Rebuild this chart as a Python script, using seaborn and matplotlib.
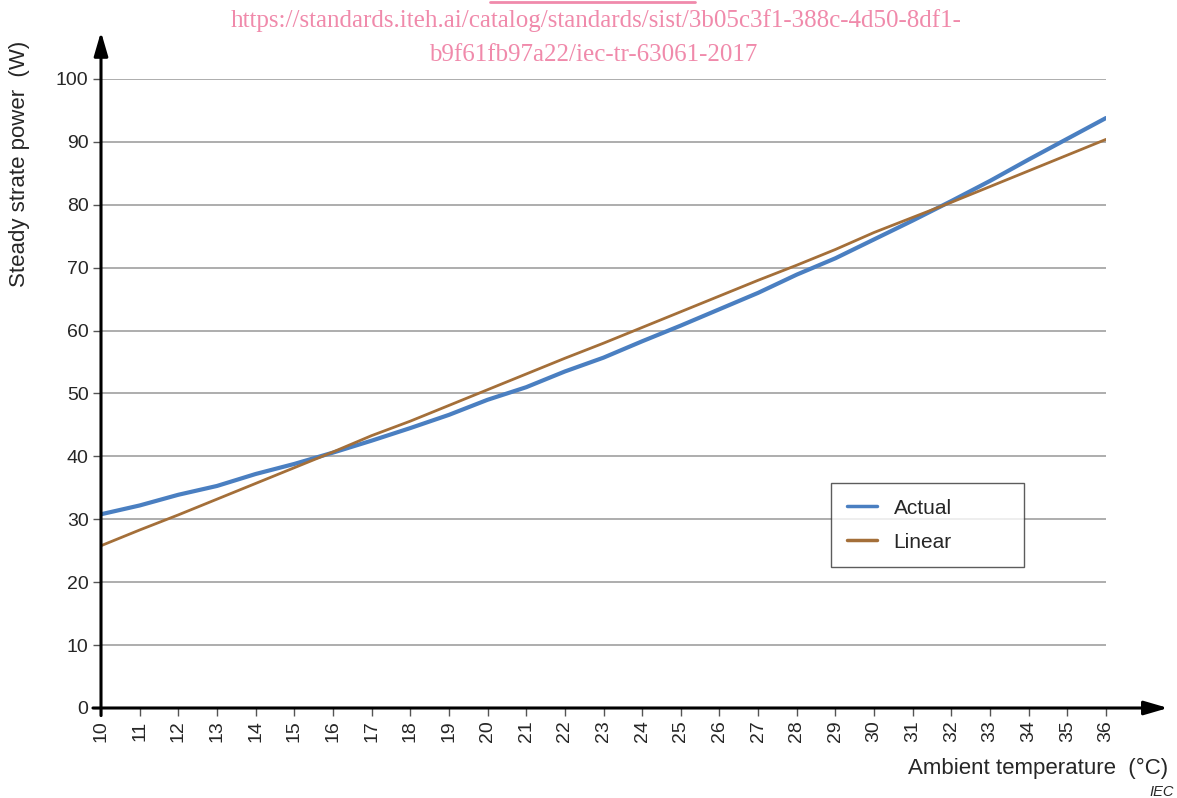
import numpy as np
import pandas as pd
import matplotlib
matplotlib.use("Agg")
import matplotlib.pyplot as plt
import seaborn as sns
from matplotlib.lines import Line2D

temps = list(range(10, 37))
actual = [30.8, 32.2, 33.9, 35.3, 37.2, 38.8, 40.6, 42.5, 44.5, 46.6, 49.0, 51.0,
          53.5, 55.7, 58.3, 60.8, 63.4, 66.0, 68.9, 71.5, 74.5, 77.5, 80.6, 83.8,
          87.2, 90.5, 93.8]
linear = [25.8, 28.3, 30.7, 33.2, 35.7, 38.2, 40.7, 43.3, 45.6, 48.1, 50.6, 53.1,
          55.6, 58.0, 60.5, 63.0, 65.5, 68.0, 70.4, 72.9, 75.6, 78.0, 80.4, 82.9,
          85.4, 87.9, 90.4]
series_names = ["Actual", "Linear"]
y_ticks = list(range(0, 101, 10))

df = pd.DataFrame({
    "temp": temps * 2,
    "power": actual + linear,
    "series": [series_names[0]] * len(temps) + [series_names[1]] * len(temps),
})

sns.set_theme(style="white")
plt.rcParams['font.family'] = ['Liberation Sans', 'DejaVu Sans']

W, H = 1177, 798
fig = plt.figure(figsize=(W / 100, H / 100), dpi=100)
x0, x1 = 101, 1106
y0, y1 = 708, 79
ax = fig.add_axes([x0 / W, 1 - y0 / H, (x1 - x0) / W, (y0 - y1) / H])

palette = {"Actual": "#4a7fc1", "Linear": "#a46f39"}
sns.lineplot(data=df, x="temp", y="power", hue="series", palette=palette,
             ax=ax, legend=False, zorder=3)
lines = ax.get_lines()
lines[0].set_linewidth(3.0)
lines[1].set_linewidth(2.0)

ax.set_xlim(10, 36)
ax.set_ylim(0, 100)
ax.set_xticks(temps)
ax.set_xticklabels([str(t) for t in temps], rotation=90, fontsize=14)
ax.set_yticks(y_ticks)
ax.set_yticklabels([str(v) for v in y_ticks], fontsize=14)
for v in y_ticks[1:]:
    ax.axhline(v, color="#a0a0a0", lw=1.2, zorder=1)
ax.tick_params(axis="both", which="both", direction="out", length=6, width=1,
               color="#555555", left=True, bottom=True, pad=3)
for s in ax.spines.values():
    s.set_visible(False)
ax.set_xlabel("")
ax.set_ylabel("")

# axis arrows
ax.annotate("", xy=(1.0617, 0), xytext=(-0.008, 0), xycoords="axes fraction",
            arrowprops=dict(arrowstyle="-|>,head_length=1.2,head_width=0.35", color="black", lw=2.2,
                            shrinkA=0, shrinkB=0), annotation_clip=False)
ax.annotate("", xy=(0, 1.075), xytext=(0, -0.012), xycoords="axes fraction",
            arrowprops=dict(arrowstyle="-|>,head_length=1.2,head_width=0.35", color="black", lw=2.2,
                            shrinkA=0, shrinkB=0), annotation_clip=False)

# legend
handles = [Line2D([0], [0], color=palette[n], lw=2.5) for n in series_names]
lx0 = (831 - x0) / (x1 - x0)
lw_ = (1024 - 831) / (x1 - x0)
ly1 = (y0 - 483) / (y0 - y1)
lh = (562 - 483) / (y0 - y1)
leg = ax.legend(handles, series_names, loc="upper left", mode="expand",
                bbox_to_anchor=(lx0, ly1 - lh, lw_, lh),
                frameon=True, fancybox=False, fontsize=15, handlelength=1.45,
                borderpad=0.75, labelspacing=0.72, handletextpad=0.8, borderaxespad=0)
leg.get_frame().set_edgecolor("#333333")
leg.get_frame().set_linewidth(1.0)
leg._legend_box.align = "left"

fig.text(20 / W, 1 - 164 / H, "Steady strate power  (W)", rotation=90,
         ha="center", va="center", fontsize=16)
fig.text(1168 / W, 1 - 768 / H, "Ambient temperature  (°C)", ha="right",
         va="center", fontsize=16)
fig.text(1174 / W, 1 - 792 / H, "IEC", ha="right", va="center", fontsize=10.5,
         style="italic")

pink = "#f08aab"
fig.text(596 / W, 1 - 21 / H, "https://standards.iteh.ai/catalog/standards/sist/3b05c3f1-388c-4d50-8df1-",
         ha="center", va="center", fontsize=18, color=pink, family="Liberation Serif")
fig.text(593 / W, 1 - 55 / H, "b9f61fb97a22/iec-tr-63061-2017",
         ha="center", va="center", fontsize=18, color=pink, family="Liberation Serif")
fig.add_artist(Line2D([490 / W, 695 / W], [1 - 1.5 / H, 1 - 1.5 / H], color=pink, lw=2))

fig.savefig("out.png", dpi=100)
